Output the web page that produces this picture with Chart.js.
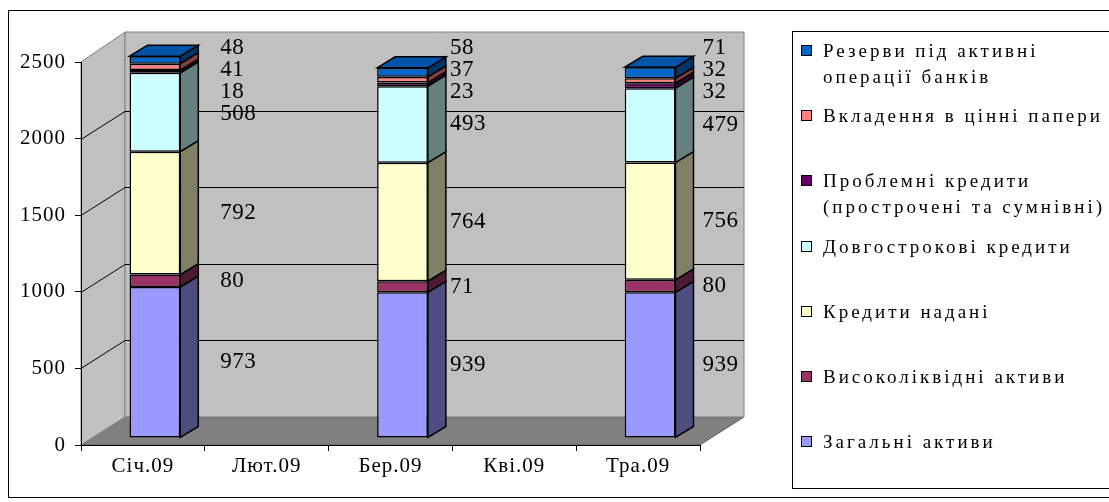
<!DOCTYPE html>
<html>
<head>
<meta charset="utf-8">
<script src="https://cdn.jsdelivr.net/npm/chart.js@4.4.1/dist/chart.umd.min.js"></script>
<style>
  body { margin: 0; background: #fff; }
  #wrap { position: relative; width: 1109px; height: 502px; overflow: hidden; background: #fff; }
  #frame { position: absolute; left: 8px; top: 10px; width: 1130px; height: 486px; border: 1px solid #000; }
  canvas { position: absolute; left: 0; top: 0; }
  #legend {
    position: absolute; left: 792px; top: 31px; width: 340px; height: 458px;
    border: 1px solid #000; background: #fff; padding-top: 6px; box-sizing: border-box;
    font-family: "Liberation Serif", "Times New Roman", serif; font-size: 19px; letter-spacing: 3px; color: #000;
  }
  .item { position: relative; height: 65.2px; padding-left: 30px; line-height: 26px; white-space: nowrap; }
  .box { position: absolute; left: 8px; top: 7px; width: 9px; height: 9px; border: 1.5px solid #000; }
</style>
</head>
<body>
<div id="wrap">
  <div id="frame"></div>
  <canvas id="chart" width="1109" height="502"></canvas>
  <div id="legend"></div>
</div>
<script>
// Categories and series (bottom of the stack first)
const categories = ['Січ.09', 'Лют.09', 'Бер.09', 'Кві.09', 'Тра.09'];
const seriesNames = [
    'Загальні активи',
    'Високоліквідні активи',
    'Кредити надані',
    'Довгострокові кредити',
    'Проблемні кредити\n(прострочені та сумнівні)',
    'Вкладення в цінні папери',
    'Резерви під активні\nоперації банків'
];
const totalAssets   = [973, null, 939, null, 939];
const liquidAssets  = [80,  null, 71,  null, 80];
const loansGranted  = [792, null, 764, null, 756];
const longTermLoans = [508, null, 493, null, 479];
const problemLoans  = [18,  null, 23,  null, 32];
const securities    = [41,  null, 37,  null, 32];
const reserves      = [48,  null, 58,  null, 71];
const seriesColors = ['#9999FF', '#993366', '#FFFFCC', '#CCFFFF', '#660066', '#FF8080', '#0066CC'];
const yTicks = [0, 500, 1000, 1500, 2000, 2500];

const seriesValues = [totalAssets, liquidAssets, loansGranted, longTermLoans, problemLoans, securities, reserves];

// 3D look
const DEPTH = { dx: 44, dy: -28 };      // back wall offset
const BAR_SHIFT = { dx: 12, dy: -7 };   // bars stand a bit behind the front axis
const BAR_STRETCH = 1.013;              // bars a touch taller than the front axis scale
const BAR_DEPTH = { dx: 18, dy: -11 };
const LABEL_GAP = [40, 22, 22, 22, 27];
const LABEL_FONT = '23px "Liberation Serif", serif';
const AXIS_FONT = { family: '"Liberation Serif", serif', size: 21 };

function shade(hex, f) {
    const n = parseInt(hex.slice(1), 16);
    const r = Math.round(((n >> 16) & 255) * f);
    const g = Math.round(((n >> 8) & 255) * f);
    const b = Math.round((n & 255) * f);
    return `rgb(${r},${g},${b})`;
}

function poly(ctx, pts, fill, stroke, lw) {
    ctx.beginPath();
    pts.forEach((p, i) => i ? ctx.lineTo(p[0], p[1]) : ctx.moveTo(p[0], p[1]));
    ctx.closePath();
    if (fill) { ctx.fillStyle = fill; ctx.fill(); }
    if (stroke) { ctx.strokeStyle = stroke; ctx.lineWidth = lw || 1; ctx.stroke(); }
}

// bar plane transform (same as applied to the canvas while the bars are drawn)
function barPlane(chart) {
    const B = chart.chartArea.bottom;
    return {
        x: x => x + BAR_SHIFT.dx,
        y: y => B + (y - B) * BAR_STRETCH + BAR_SHIFT.dy
    };
}

/**
 * Walls, floor and gridlines behind the bars
 */
const wallsPlugin = {
    id: 'walls',
    beforeDraw(chart) {
        const { ctx, chartArea: a, scales: { y } } = chart;
        ctx.letterSpacing = '1px';
        const L = a.left, R = a.right, B = a.bottom, T = y.getPixelForValue(yTicks[yTicks.length - 1]);
        const dx = DEPTH.dx, dy = DEPTH.dy;
        ctx.save();
        poly(ctx, [[L, B], [R, B], [R + dx, B + dy], [L + dx, B + dy]], '#808080', '#606060');
        poly(ctx, [[L, B], [L, T], [L + dx, T + dy - 2], [L + dx, B + dy]], '#C0C0C0', '#808080');
        poly(ctx, [[L + dx, T + dy - 2], [R + dx, T + dy - 2], [R + dx, B + dy], [L + dx, B + dy]], '#C0C0C0', '#808080');
        ctx.strokeStyle = '#000';
        ctx.lineWidth = 1;
        yTicks.slice(1, -1).forEach(v => {
            const py = Math.round(y.getPixelForValue(v)) + 0.5;
            ctx.beginPath();
            ctx.moveTo(L, py);
            ctx.lineTo(L + dx, py + dy);
            ctx.lineTo(R + dx, py + dy);
            ctx.stroke();
        });
        ctx.restore();
    },
    beforeDatasetsDraw(chart) {
        const ctx = chart.ctx;
        const B = chart.chartArea.bottom;
        ctx.save();
        ctx.translate(BAR_SHIFT.dx, BAR_SHIFT.dy + B);
        ctx.scale(1, BAR_STRETCH);
        ctx.translate(0, -B);
    },
    afterDatasetsDraw(chart) {
        const ctx = chart.ctx;
        ctx.restore();
        const P = barPlane(chart);
        const n = chart.data.datasets.length;
        // side and top faces
        categories.forEach((c, i) => {
            let topIdx = -1;
            for (let d = 0; d < n; d++) {
                if (seriesValues[d][i] == null) continue;
                const el = chart.getDatasetMeta(d).data[i];
                const right = P.x(el.x + el.width / 2), top = P.y(el.y), base = P.y(el.base);
                poly(ctx, [[right, top], [right + BAR_DEPTH.dx, top + BAR_DEPTH.dy],
                    [right + BAR_DEPTH.dx, base + BAR_DEPTH.dy], [right, base]],
                    shade(seriesColors[d], 0.5), '#000', 1.5);
                topIdx = d;
            }
            if (topIdx >= 0) {
                const el = chart.getDatasetMeta(topIdx).data[i];
                const left = P.x(el.x - el.width / 2), right = P.x(el.x + el.width / 2), top = P.y(el.y);
                poly(ctx, [[left, top], [left + BAR_DEPTH.dx, top + BAR_DEPTH.dy],
                    [right + BAR_DEPTH.dx, top + BAR_DEPTH.dy], [right, top]],
                    shade(seriesColors[topIdx], 0.82), '#000', 1.5);
            }
        });

        // value labels to the right of each column
        const gap = 22;
        const minTop = chart.scales.y.getPixelForValue(yTicks[yTicks.length - 1]) - 14;
        ctx.save();
        ctx.font = LABEL_FONT;
        ctx.fillStyle = '#000';
        ctx.textAlign = 'left';
        ctx.textBaseline = 'middle';
        ctx.letterSpacing = '0.5px';
        categories.forEach((c, i) => {
            const items = [];
            for (let d = 0; d < n; d++) {
                if (seriesValues[d][i] == null) continue;
                const el = chart.getDatasetMeta(d).data[i];
                items.push({ v: seriesValues[d][i], y: P.y((el.y + el.base) / 2), x: P.x(el.x + el.width / 2) });
            }
            if (!items.length) return;
            for (let k = 1; k < items.length; k++) items[k].y = Math.min(items[k].y, items[k - 1].y - gap);
            const last = items.length - 1;
            items[last].y = Math.max(items[last].y, minTop);
            for (let k = last - 1; k >= 0; k--) items[k].y = Math.max(items[k].y, items[k + 1].y + gap);
            items.forEach(it => ctx.fillText(String(it.v), it.x + LABEL_GAP[i], it.y));
        });
        ctx.restore();
    }
};

const datasets = seriesValues.map((vals, d) => ({
    label: seriesNames[d],
    data: vals,
    backgroundColor: seriesColors[d],
    borderColor: '#000',
    borderWidth: 1.5,
    borderSkipped: false,
    categoryPercentage: 1,
    barPercentage: 0.41,
    clip: false
}));

new Chart(document.getElementById('chart'), {
    type: 'bar',
    data: { labels: categories, datasets: datasets },
    options: {
        responsive: false,
        devicePixelRatio: 1,
        animation: false,
        layout: { padding: { top: 62, right: 409, left: 0, bottom: 0 } },
        plugins: { legend: { display: false }, tooltip: { enabled: false } },
        scales: {
            x: {
                stacked: true,
                grid: { offset: true, drawOnChartArea: false, drawTicks: true, tickLength: 6, color: '#000' },
                border: { display: true, color: '#000', width: 1 },
                ticks: { color: '#000', font: AXIS_FONT, padding: 3, maxRotation: 0 },
                afterFit: s => { s.height = 57; }
            },
            y: {
                stacked: true,
                min: 0,
                max: 2500,
                grid: { drawOnChartArea: false, drawTicks: true, tickLength: 6, color: '#000' },
                border: { display: true, color: '#000', width: 1 },
                ticks: { stepSize: 500, color: '#000', font: AXIS_FONT, padding: 9, callback: v => String(v) },
                afterFit: s => { s.width = 81; }
            }
        }
    },
    plugins: [wallsPlugin]
});

// Legend: top series first
const legend = document.getElementById('legend');
for (let d = seriesNames.length - 1; d >= 0; d--) {
    const item = document.createElement('div');
    item.className = 'item';
    const box = document.createElement('span');
    box.className = 'box';
    box.style.background = seriesColors[d];
    item.appendChild(box);
    seriesNames[d].split('\n').forEach((line, k) => {
        if (k) item.appendChild(document.createElement('br'));
        item.appendChild(document.createTextNode(line));
    });
    legend.appendChild(item);
}
</script>
</body>
</html>
